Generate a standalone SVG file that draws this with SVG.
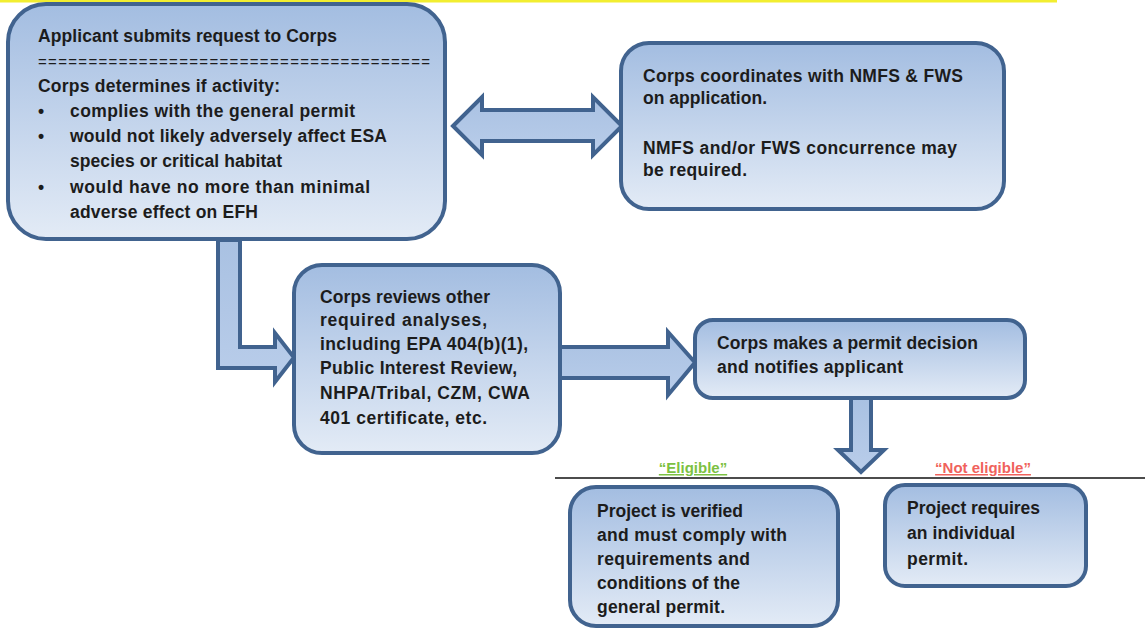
<svg xmlns="http://www.w3.org/2000/svg" width="1145" height="629" viewBox="0 0 1145 629">
<defs>
<linearGradient id="gBox" x1="0" y1="0" x2="0" y2="1">
<stop offset="0" stop-color="#a3bde1"/>
<stop offset="1" stop-color="#e3ebf6"/>
</linearGradient>
<linearGradient id="gArr" x1="0" y1="0" x2="0" y2="1">
<stop offset="0" stop-color="#a9c1e2"/>
<stop offset="1" stop-color="#b9cdea"/>
</linearGradient>
</defs>
<style>
.box{fill:url(#gBox);stroke:#41638f;stroke-width:4}
.arr{fill:url(#gArr);stroke:#41638f;stroke-width:4;stroke-linejoin:miter}
.t{font-family:"Liberation Sans",Arial,sans-serif;font-weight:bold;font-size:17.5px;fill:#1c1c1c}
.eq{font-family:"Liberation Sans",Arial,sans-serif;font-weight:normal;font-size:15px;fill:#1c1c1c}
.lab{font-family:"Liberation Sans",Arial,sans-serif;font-weight:bold;font-size:15px;text-decoration:underline}
</style>
<rect width="1145" height="629" fill="#ffffff"/>
<line x1="0" y1="1" x2="1057" y2="1" stroke="#f2ee30" stroke-width="3"/>

<g id="connectors">
<polygon class="arr" points="453,126 482,97 482,110 593,110 593,97 622,126 593,155 593,141 482,141 482,155"/>
<polygon class="arr" points="218,240 218,368 275,368 275,382 294,357.5 275,333 275,347 240,347 240,240"/>
<polygon class="arr" points="560,347 668,347 668,332 695,362.5 668,395 668,378 560,378"/>
<polygon class="arr" points="851,398 871,398 871,450 884,450 861,472 838,450 851,450"/>
<line x1="555" y1="478" x2="1145" y2="478" stroke="#111" stroke-width="1.5"/>
<text class="lab" x="693" y="473" text-anchor="middle" fill="#7cc142">“Eligible”</text>
<text class="lab" x="983" y="473" text-anchor="middle" fill="#f0625c">“Not eligible”</text>
</g>

<g id="n1">
<rect class="box" x="8" y="4" width="437" height="235" rx="38"/>
<text class="t" x="38" y="42" textLength="299">Applicant  submits request to Corps</text>
<text class="eq" x="38" y="67" textLength="392">=======================================</text>
<text class="t" x="38" y="92" textLength="242">Corps determines if activity:</text>
<text class="t" x="38" y="117">•</text>
<text class="t" x="70" y="117" textLength="285">complies with the general permit</text>
<text class="t" x="38" y="142">•</text>
<text class="t" x="70" y="142" textLength="317">would not likely adversely affect ESA</text>
<text class="t" x="70" y="167" textLength="212">species or critical habitat</text>
<text class="t" x="38" y="193">•</text>
<text class="t" x="70" y="193" textLength="300">would have no more than minimal</text>
<text class="t" x="70" y="218" textLength="188">adverse effect on EFH</text>
</g>

<g id="n2">
<rect class="box" x="621" y="43" width="383" height="166" rx="28"/>
<text class="t" x="643" y="82" textLength="320">Corps coordinates  with NMFS &amp; FWS</text>
<text class="t" x="643" y="104" textLength="124">on application.</text>
<text class="t" x="643" y="154" textLength="314">NMFS and/or  FWS concurrence  may</text>
<text class="t" x="643" y="176" textLength="104">be required.</text>
</g>

<g id="n3">
<rect class="box" x="294" y="265" width="266" height="188" rx="28"/>
<text class="t" x="320" y="303" textLength="170">Corps reviews other</text>
<text class="t" x="320" y="326" textLength="167">required  analyses,</text>
<text class="t" x="320" y="350" textLength="208">including  EPA 404(b)(1),</text>
<text class="t" x="320" y="374" textLength="197">Public Interest Review,</text>
<text class="t" x="320" y="399" textLength="210">NHPA/Tribal, CZM, CWA</text>
<text class="t" x="320" y="424" textLength="167">401 certificate, etc.</text>
</g>

<g id="n4">
<rect class="box" x="695" y="320" width="330" height="78" rx="18"/>
<text class="t" x="717" y="349" textLength="261">Corps makes a permit decision</text>
<text class="t" x="717" y="373" textLength="186">and notifies applicant</text>
</g>

<g id="n5">
<rect class="box" x="570" y="487" width="268" height="139" rx="26"/>
<text class="t" x="597" y="517" textLength="146">Project is verified</text>
<text class="t" x="597" y="541" textLength="190">and must comply with</text>
<text class="t" x="597" y="565" textLength="153">requirements and</text>
<text class="t" x="597" y="589" textLength="143">conditions of the</text>
<text class="t" x="597" y="613" textLength="128">general permit.</text>
</g>

<g id="n6">
<rect class="box" x="885" y="485" width="201" height="101" rx="20"/>
<text class="t" x="907" y="514" textLength="133">Project requires</text>
<text class="t" x="907" y="539" textLength="108">an individual</text>
<text class="t" x="907" y="565" textLength="61">permit.</text>
</g>
</svg>
